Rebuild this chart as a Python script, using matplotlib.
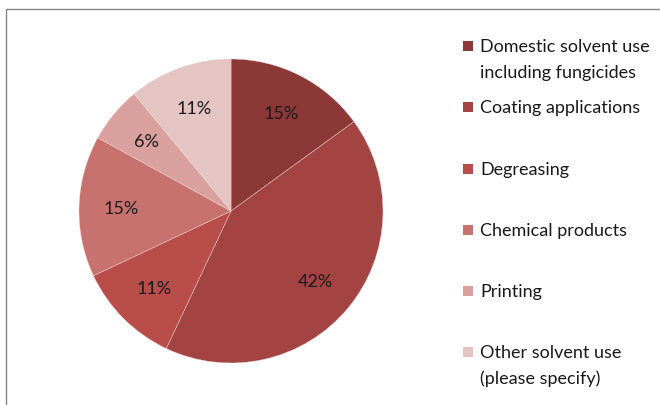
import matplotlib.pyplot as plt
from matplotlib.patches import Rectangle

labels = ["Domestic solvent use\nincluding fungicides", "Coating applications",
          "Degreasing", "Chemical products", "Printing",
          "Other solvent use\n(please specify)"]
shares = [15, 42, 11, 15, 6, 11]
colors = ["#8C3836", "#A44442", "#B84D4A", "#C7726F", "#D9A09E", "#E5C4C4"]

plt.rcParams['font.family'] = ['Lato', 'DejaVu Sans']

W, H = 660, 406
fig = plt.figure(figsize=(W / 100, H / 100), dpi=100)

# chart frame (runs off the right and bottom edges)
fig.add_artist(Rectangle((6 / W, -0.1), 1.2, (H - 10) / H + 0.1,
                         transform=fig.transFigure, fill=False,
                         edgecolor="#868686", linewidth=1.0))

cx, cy, r = 231, 212, 152
ax = fig.add_axes([(cx - r) / W, (H - cy - r) / H, 2 * r / W, 2 * r / H])
wedges, _, autotexts = ax.pie(shares, colors=colors, startangle=90, counterclock=False,
                              autopct="%d%%", pctdistance=0.72,
                              wedgeprops=dict(edgecolor="#F0D8D8", linewidth=0.3),
                              textprops=dict(fontsize=13, color="#1a1a1a"))
ax.set_xlim(-1, 1)
ax.set_ylim(-1, 1)
ax.set_aspect("equal")

# legend, drawn by hand to match spacing
ys = [47, 108, 170, 231, 292, 353]
for lab, col, y in zip(labels, colors, ys):
    fig.add_artist(Rectangle((463 / W, 1 - (y + 5) / H), 10 / W, 10 / H,
                             transform=fig.transFigure, facecolor=col, edgecolor="none"))
    fig.text(480 / W, 1 - y / H, lab.split("\n")[0], fontsize=13, color="#1a1a1a",
             va="center", ha="left")
    if "\n" in lab:
        fig.text(480 / W, 1 - (y + 26) / H, lab.split("\n")[1], fontsize=13,
                 color="#1a1a1a", va="center", ha="left")

fig.savefig("out.png", dpi=100)
